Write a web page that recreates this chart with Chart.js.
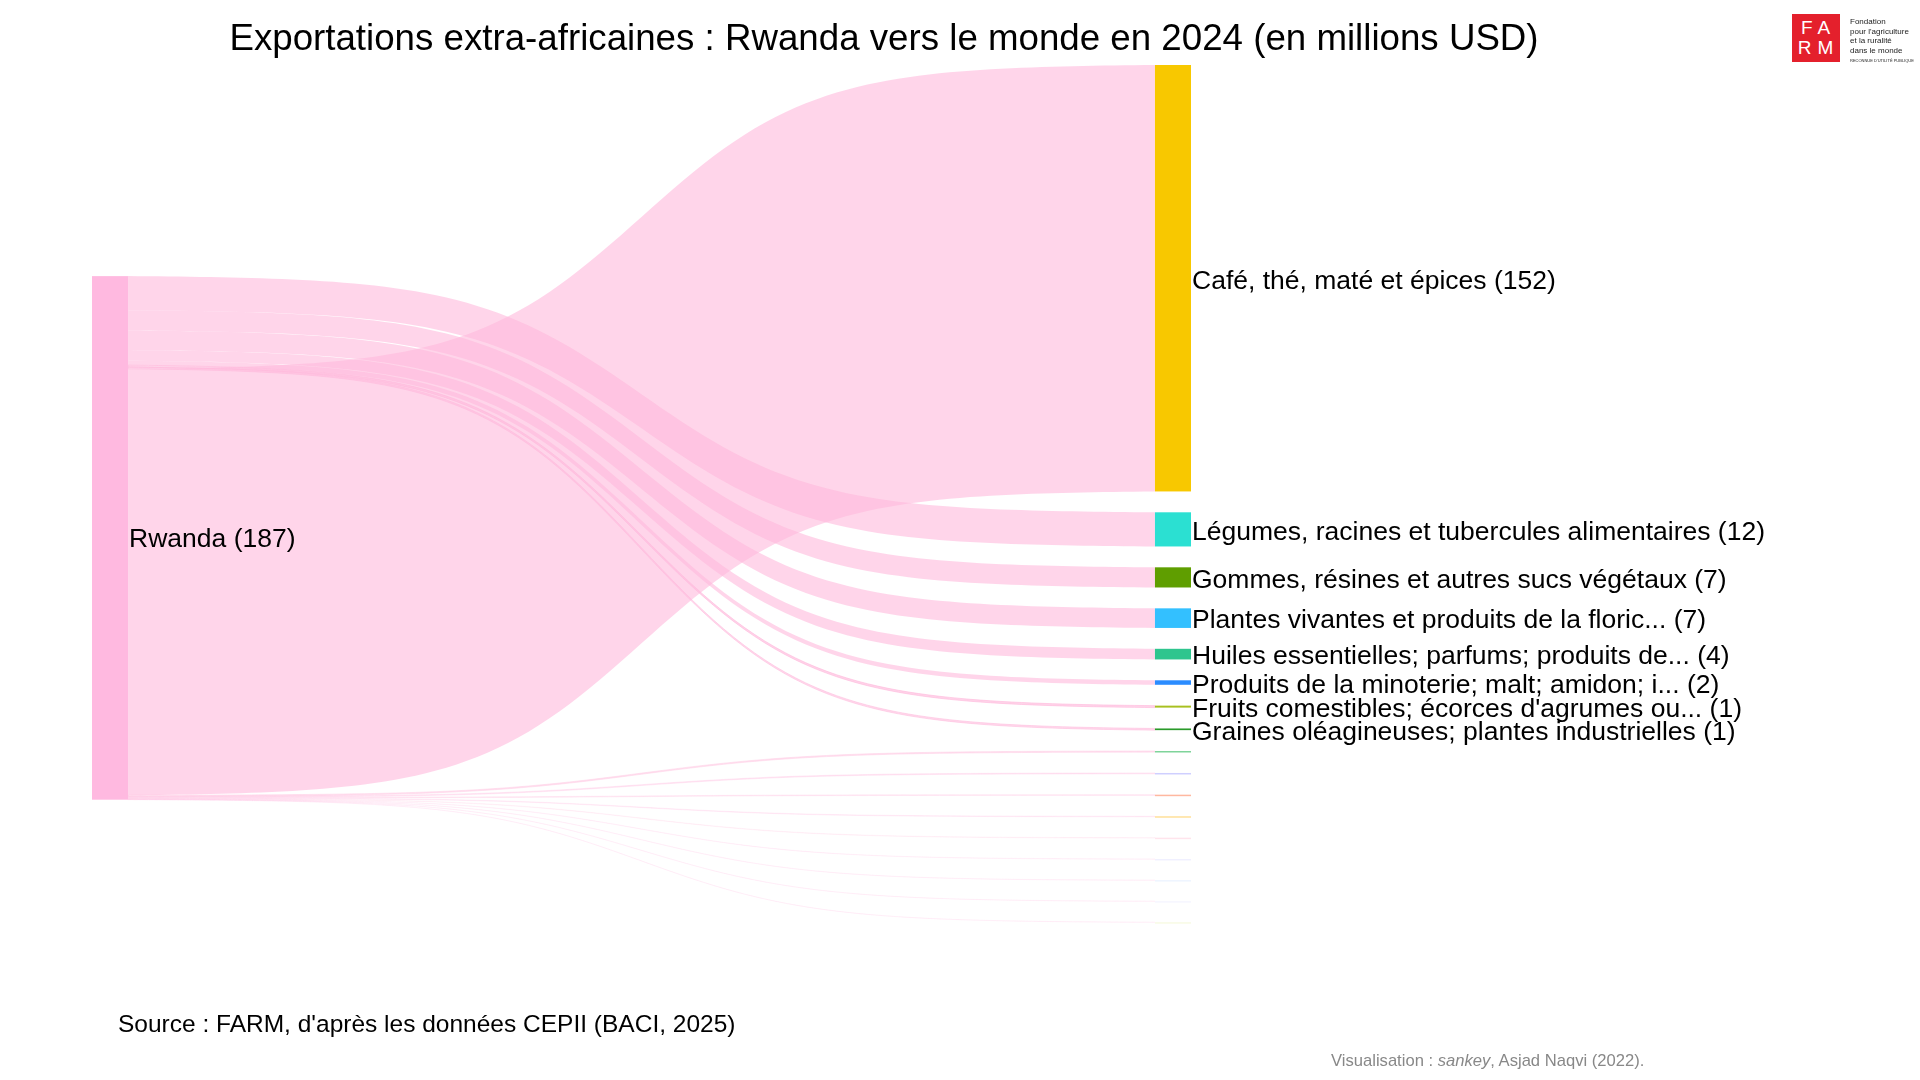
<!DOCTYPE html>
<html><head><meta charset="utf-8">
<script src="https://cdn.jsdelivr.net/npm/chart.js@4"></script>
<style>
body{margin:0;background:#fff;width:1920px;height:1080px;overflow:hidden;font-family:"Liberation Sans",Arial,sans-serif;position:relative}
#wrap{position:absolute;left:0;top:0;width:1920px;height:1080px}
#title{position:absolute;top:17px;left:0;width:1768px;text-align:center;font-size:36.7px;color:#000}
#src{position:absolute;left:118px;top:1010px;font-size:24.5px;color:#000}
#vis{position:absolute;left:1331px;top:1051px;font-size:16.6px;color:#888}
#logo{position:absolute;left:1792px;top:14px;width:48px;height:48px;background:#e4202c;color:#fff;font-size:19px;line-height:20px;text-align:center;padding-top:4px;box-sizing:border-box;letter-spacing:6px;padding-left:5px}
#logot{position:absolute;left:1850px;top:17px;font-size:8px;line-height:9.5px;color:#222}
</style></head><body>
<div id="wrap"><canvas id="c" width="1920" height="1080"></canvas></div>
<div id="title">Exportations extra-africaines : Rwanda vers le monde en 2024 (en millions USD)</div>
<div id="src">Source : FARM, d'après les données CEPII (BACI, 2025)</div>
<div id="vis">Visualisation : <i>sankey</i>, Asjad Naqvi (2022).</div>
<div id="logo">FA<br>RM</div>
<div id="logot">Fondation<br>pour l'agriculture<br>et la ruralité<br>dans le monde<br><span style="font-size:4px">RECONNUE D'UTILITÉ PUBLIQUE</span></div>
<script>
const sourceName = "Rwanda";
const categories = ["Café, thé, maté et épices","Légumes, racines et tubercules alimentaires","Gommes, résines et autres sucs végétaux","Plantes vivantes et produits de la floric...","Huiles essentielles; parfums; produits de...","Produits de la minoterie; malt; amidon; i...","Fruits comestibles; écorces d'agrumes ou...","Graines oléagineuses; plantes industrielles","","","","","","","","",""];
const values = [152.3,12.2,7.2,7.0,3.8,1.6,0.7,0.6,0.4,0.3,0.25,0.2,0.15,0.1,0.08,0.06,0.05];
const nodeColors = ["#f8c800","#2be0d2","#5f9e00","#33c0ff","#2ec58e","#2b8cff","#a8c020","#2a9a2a","#7fd49a","#cfcfff","#ffb8a0","#ffe09a","#ffe4ec","#f0f0ff","#eef5ff","#f6f6ff","#f8fbe4"];
const leftOrder = [1,2,3,4,5,6,7,0,8,9,10,11,12,13,14,15,16];

const GAP = 7.45, LEFT_TOP = 75.4, NODE_W = 0.0328;
const total = values.reduce((a,b)=>a+b,0);

const sankeyPlugin = {
  id:'sankey',
  afterDatasetsDraw(chart){
    const ctx = chart.ctx, xs = chart.scales.x, ys = chart.scales.y;
    const X = v=>xs.getPixelForValue(v), Y = v=>ys.getPixelForValue(v);
    const rTop = []; let acc = 0;
    values.forEach((v,i)=>{ rTop[i]=acc; acc+=v+GAP; });
    const lTop = []; acc = LEFT_TOP;
    leftOrder.forEach(i=>{ lTop[i]=acc; acc+=values[i]; });
    const x0 = X(NODE_W), x1 = X(1-NODE_W);
    const K = 12, N = 100;
    const sig = t => { const s=u=>1/(1+Math.exp(-K*(u-0.5))); return (s(t)-s(0))/(s(1)-s(0)); };
    const curve = (ya,yb,fwd)=>{
      for(let j=0;j<=N;j++){ const t=fwd? j/N : 1-j/N; ctx.lineTo(x0+(x1-x0)*t, ya+(yb-ya)*sig(t)); }
    };
    leftOrder.slice().reverse().forEach(i=>{
      const a = Y(lTop[i]), b = Y(lTop[i]+values[i]);
      const c = Y(rTop[i]), d = Y(rTop[i]+values[i]);
      ctx.beginPath();
      ctx.moveTo(x0,a);
      curve(a,c,true);
      ctx.lineTo(x1,d);
      curve(b,d,false);
      ctx.closePath();
      const alpha = values[i] >= 1 ? 0.6 : Math.max(0.12, values[i]*0.9);
      ctx.fillStyle = `rgba(255,185,220,${alpha})`;
      ctx.fill();
      if (values[i] < 1){ ctx.strokeStyle=`rgba(255,185,220,${alpha})`; ctx.lineWidth=1; ctx.stroke(); }
    });
    ctx.fillStyle = "#ffb9e0";
    ctx.fillRect(X(0), Y(LEFT_TOP), x0-X(0), Y(LEFT_TOP+total)-Y(LEFT_TOP));
    ctx.font = "26.5px 'Liberation Sans', Arial, sans-serif";
    ctx.fillStyle="#000"; ctx.textBaseline="middle"; ctx.textAlign="left";
    ctx.fillText(`${sourceName} (${Math.round(total)})`, x0+1, Y(LEFT_TOP+total/2)+2);
    values.forEach((v,i)=>{
      const t = Y(rTop[i]), h = Math.max(1.5, Y(rTop[i]+v)-t);
      ctx.fillStyle = nodeColors[i];
      ctx.fillRect(x1, t, X(1)-x1, h);
      if (categories[i]) {
        ctx.fillStyle="#000";
        ctx.fillText(`${categories[i]} (${Math.round(v)})`, X(1)+1, t+h/2+3);
      }
    });
  }
};

new Chart(document.getElementById('c'), {
  type:'scatter',
  data:{datasets:[{data:[]}]},
  options:{
    responsive:false, animation:false, devicePixelRatio:1,
    layout:{padding:{top:65,bottom:140,left:92,right:729}},
    plugins:{legend:{display:false},tooltip:{enabled:false}},
    scales:{
      x:{type:'linear',min:0,max:1,display:false},
      y:{type:'linear',min:0,max:312.5,reverse:true,display:false}
    }
  },
  plugins:[sankeyPlugin]
});
</script></body></html>
